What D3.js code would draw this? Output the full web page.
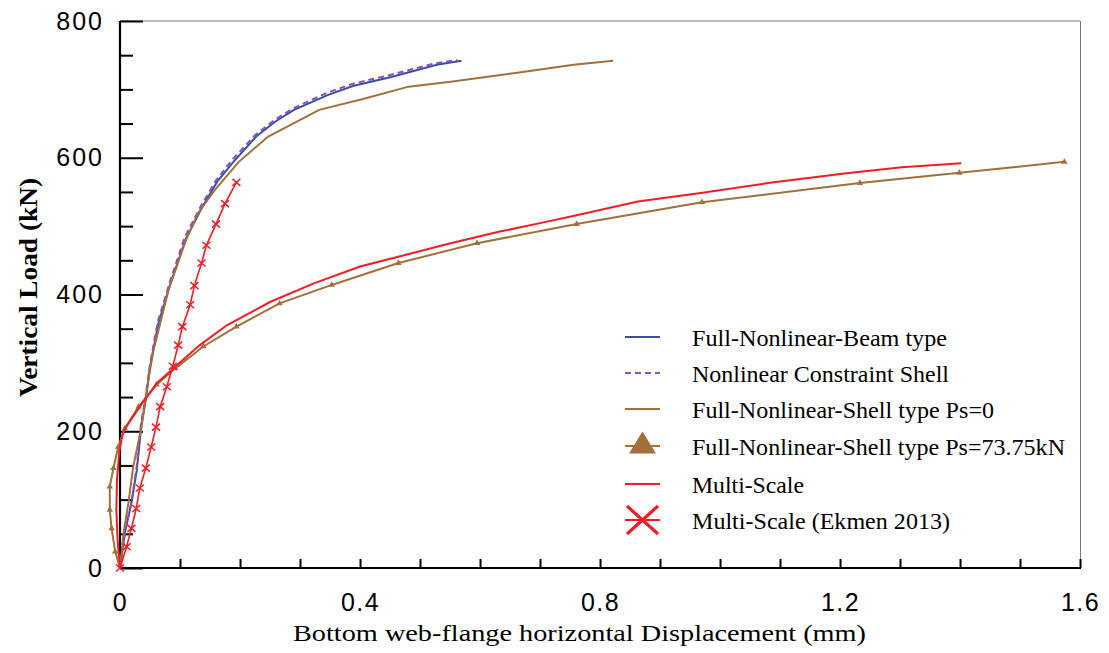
<!DOCTYPE html>
<html><head><meta charset="utf-8">
<script src="https://cdn.jsdelivr.net/npm/d3@7"></script>
<style>body{margin:0;background:#fff}</style>
</head><body>
<svg id="c" width="1109" height="653"></svg>
<script>
// ---- data ----
const xMajorTicks = [0, 0.4, 0.8, 1.2, 1.6];
const xTickLabels = ["0", "0.4", "0.8", "1.2", "1.6"];
const xMinorTicks = [0.1,0.2,0.3,0.5,0.6,0.7,0.9,1.0,1.1,1.3,1.4,1.5];
const yMajorTicks = [0, 200, 400, 600, 800];
const yTickLabels = ["0", "200", "400", "600", "800"];
const yMinorTicks = [50,100,150,250,300,350,450,500,550,650,700,750];

const beamType = [[0,0],[0.001,7],[0.008,51],[0.019,95],[0.028,143],[0.036,212],[0.042,241],[0.05,294],[0.064,358],[0.084,416],[0.11,482],[0.136,526],[0.162,565],[0.189,594],[0.227,631],[0.259,653],[0.29,670],[0.347,692],[0.388,705],[0.452,718],[0.528,736],[0.569,742]];
const constraintShell = [[0,0],[0.002,10],[0.009,55],[0.02,100],[0.028,150],[0.035,212],[0.042,245],[0.05,298],[0.063,360],[0.083,418],[0.108,484],[0.134,528],[0.16,567],[0.187,597],[0.225,633],[0.257,655],[0.288,672],[0.345,695],[0.387,708],[0.45,721],[0.525,738],[0.562,743]];
const shellPs0 = [[0,0],[0.006,51],[0.014,95],[0.022,148],[0.036,207],[0.05,290],[0.056,319],[0.069,365],[0.081,407],[0.11,480],[0.13,519],[0.16,555],[0.198,594],[0.247,631],[0.332,670],[0.405,686],[0.481,704],[0.551,711],[0.668,725],[0.756,736],[0.822,742]];
const shellPs73 = [[0,0],[-0.008,24],[-0.014,58],[-0.017,85],[-0.017,119],[-0.011,146],[-0.003,177],[0.008,204],[0.031,236],[0.061,268],[0.092,292],[0.139,324],[0.194,353],[0.266,387],[0.353,414],[0.464,446],[0.595,475],[0.761,503],[0.97,535],[1.233,563],[1.399,578],[1.574,594]];
const multiScale = [[0,0],[-0.004,40],[-0.006,85],[-0.005,130],[-0.001,172],[0.005,198],[0.013,210],[0.033,236],[0.061,270],[0.089,292],[0.133,326],[0.178,355],[0.25,389],[0.322,416],[0.4,441],[0.467,456],[0.551,475],[0.633,492],[0.698,504],[0.761,516],[0.863,536],[0.965,548],[1.08,563],[1.207,577],[1.303,586],[1.402,592]];
const ekmen2013 = [[0,0],[0.011,31],[0.019,58],[0.027,87],[0.033,117],[0.043,146],[0.052,177],[0.06,206],[0.067,236],[0.078,265],[0.088,295],[0.097,326],[0.104,353],[0.117,385],[0.124,413],[0.136,446],[0.144,472],[0.16,503],[0.175,533],[0.194,564]];

const legendLabels = ["Full-Nonlinear-Beam type","Nonlinear Constraint Shell","Full-Nonlinear-Shell type Ps=0","Full-Nonlinear-Shell type Ps=73.75kN","Multi-Scale","Multi-Scale (Ekmen 2013)"];
const xTitle = "Bottom web-flange horizontal Displacement (mm)";
const yTitle = "Vertical Load (kN)";

// ---- styles ----
const BLUE="#3b4ea3", PURPLE="#8b4fb5", BROWN="#a2703a", RED="#f41c24";
const serif = "'Liberation Serif','Times New Roman',serif";
const sans = "'Liberation Sans',Arial,sans-serif";

const svg = d3.select("#c");
const x = d3.scaleLinear().domain([0,1.6]).range([120,1080]);
const y = d3.scaleLinear().domain([0,800]).range([568,21]);

// frame
svg.append("line").attr("x1",120).attr("x2",1080).attr("y1",y(800)).attr("y2",y(800)).attr("stroke","#7a7a7a").attr("stroke-width",1);
svg.append("line").attr("x1",1080.5).attr("x2",1080.5).attr("y1",y(800)).attr("y2",568).attr("stroke","#7a7a7a").attr("stroke-width",1);

// axes
function styleAxis(g){ g.select(".domain").remove(); g.selectAll(".tick line").attr("stroke","#000").attr("stroke-width",2); }
svg.append("g").attr("transform","translate(0,568)")
  .call(d3.axisBottom(x).tickValues(xMinorTicks).tickSize(-9).tickFormat(""))
  .call(styleAxis);
svg.append("g").attr("transform","translate(0,568)")
  .call(d3.axisBottom(x).tickValues(xMajorTicks).tickSize(-9).tickPadding(25).tickFormat((d,i)=>xTickLabels[i]))
  .call(styleAxis)
  .call(g=>g.selectAll("text").attr("font-family",sans).attr("font-size",25).attr("fill","#000").style("letter-spacing","1.5px"));
svg.append("g").attr("transform","translate(120,0)")
  .call(d3.axisLeft(y).tickValues(yMinorTicks).tickSize(-13).tickFormat(""))
  .call(styleAxis);
svg.append("g").attr("transform","translate(120,0)")
  .call(d3.axisLeft(y).tickValues(yMajorTicks).tickSize(-23).tickPadding(16).tickFormat((d,i)=>yTickLabels[i]))
  .call(styleAxis)
  .call(g=>g.selectAll("text").attr("font-family",sans).attr("font-size",25).attr("fill","#000").style("letter-spacing","2px"));

svg.append("line").attr("x1",120).attr("x2",120).attr("y1",y(800)).attr("y2",569).attr("stroke","#000").attr("stroke-width",2.2);
svg.append("line").attr("x1",119).attr("x2",1081).attr("y1",568).attr("y2",568).attr("stroke","#000").attr("stroke-width",2.2);

// titles
svg.append("text").attr("x",(293+866)/2).attr("y",641).attr("text-anchor","middle")
  .attr("font-family",serif).attr("font-size",24).attr("textLength",573).attr("lengthAdjust","spacingAndGlyphs").text(xTitle);
svg.append("text").attr("transform","translate(37,287.5) rotate(-90)").attr("text-anchor","middle")
  .attr("font-family",serif).attr("font-size",25).attr("font-weight","bold").attr("textLength",219).attr("lengthAdjust","spacingAndGlyphs").text(yTitle);

// lines
const line = d3.line().x(d=>x(d[0])).y(d=>y(d[1]));
const plot = svg.append("g");
plot.append("path").datum(beamType).attr("d",line).attr("fill","none").attr("stroke",BLUE).attr("stroke-width",2);
plot.append("path").datum(constraintShell).attr("d",line).attr("fill","none").attr("stroke",PURPLE).attr("stroke-width",2).attr("stroke-dasharray","6,4");
plot.append("path").datum(shellPs0).attr("d",line).attr("fill","none").attr("stroke",BROWN).attr("stroke-width",2);
plot.append("path").datum(shellPs73).attr("d",line).attr("fill","none").attr("stroke",BROWN).attr("stroke-width",2);
plot.selectAll(".tri").data(shellPs73.slice(1)).join("path").attr("class","tri")
  .attr("transform",d=>`translate(${x(d[0])},${y(d[1])})`)
  .attr("d",d3.symbol(d3.symbolTriangle,18)).attr("fill",BROWN);
plot.append("path").datum(multiScale).attr("d",line).attr("fill","none").attr("stroke",RED).attr("stroke-width",2);
plot.append("path").datum(ekmen2013).attr("d",line).attr("fill","none").attr("stroke",RED).attr("stroke-width",1.6);
plot.selectAll(".xm").data(ekmen2013).join("path").attr("class","xm")
  .attr("transform",d=>`translate(${x(d[0])},${y(d[1])})`)
  .attr("d","M-4,-3.5L4,3.5M-4,3.5L4,-3.5").attr("stroke",RED).attr("stroke-width",1.5).attr("fill","none");

// legend
const legY = [337, 373, 409, 446, 484, 520];
const legW = [255, 257, 302, 373, 112, 258];
const lg = svg.append("g");
legendLabels.forEach((t,i)=>{
  lg.append("text").attr("x",692).attr("y",legY[i]+8.5).attr("font-family",serif).attr("font-size",22.5)
    .attr("textLength",legW[i]).attr("lengthAdjust","spacingAndGlyphs").attr("fill","#000").text(t);
});
lg.append("line").attr("x1",625).attr("x2",660).attr("y1",legY[0]).attr("y2",legY[0]).attr("stroke",BLUE).attr("stroke-width",2);
lg.append("line").attr("x1",625).attr("x2",660).attr("y1",legY[1]).attr("y2",legY[1]).attr("stroke",PURPLE).attr("stroke-width",2).attr("stroke-dasharray","6,4");
lg.append("line").attr("x1",625).attr("x2",660).attr("y1",legY[2]).attr("y2",legY[2]).attr("stroke",BROWN).attr("stroke-width",2);
lg.append("line").attr("x1",625).attr("x2",660).attr("y1",legY[3]).attr("y2",legY[3]).attr("stroke",BROWN).attr("stroke-width",2);
lg.append("path").attr("d",`M629,${legY[3]+7.5}L656,${legY[3]+7.5}L642.5,${legY[3]-14.5}Z`).attr("fill",BROWN);
lg.append("line").attr("x1",625).attr("x2",660).attr("y1",legY[4]).attr("y2",legY[4]).attr("stroke",RED).attr("stroke-width",2);
lg.append("line").attr("x1",625).attr("x2",660).attr("y1",legY[5]).attr("y2",legY[5]).attr("stroke",RED).attr("stroke-width",2);
lg.append("path").attr("d",`M627,${legY[5]-14}L658,${legY[5]+14}M627,${legY[5]+14}L658,${legY[5]-14}`).attr("stroke",RED).attr("stroke-width",3.2).attr("fill","none");
</script>
</body></html>
